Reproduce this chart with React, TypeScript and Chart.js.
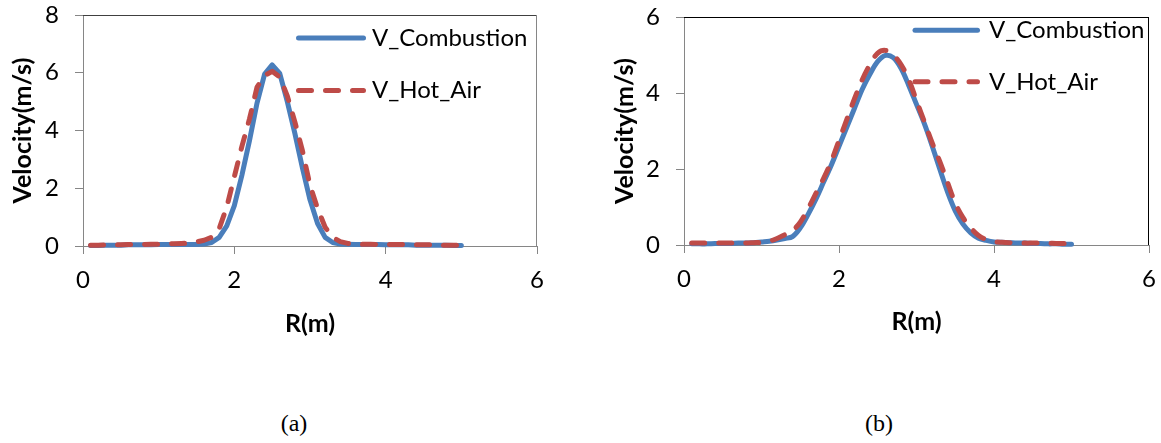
import React, { useEffect, useRef } from "react";
import { Chart, registerables } from "chart.js";

Chart.register(...registerables);

// ---- data ----
const R_M = [
  0.1, 0.2, 0.3, 0.4, 0.5, 0.6, 0.7, 0.8, 0.9, 1.0,
  1.1, 1.2, 1.3, 1.4, 1.5, 1.6, 1.7, 1.8, 1.9, 2.0,
  2.1, 2.2, 2.3, 2.4, 2.5, 2.6, 2.7, 2.8, 2.9, 3.0,
  3.1, 3.2, 3.3, 3.4, 3.5, 3.6, 3.7, 3.8, 3.9, 4.0,
  4.1, 4.2, 4.3, 4.4, 4.5, 4.6, 4.7, 4.8, 4.9, 5.0,
];

// (a)
const A_COMBUSTION = [
  0.02, 0.02, 0.03, 0.03, 0.03, 0.04, 0.04, 0.04, 0.04, 0.05,
  0.05, 0.05, 0.05, 0.05, 0.05, 0.07, 0.12, 0.3, 0.7, 1.4,
  2.45, 3.65, 4.95, 5.95, 6.27, 5.98, 5.0, 3.9, 2.7, 1.6,
  0.78, 0.3, 0.12, 0.07, 0.06, 0.05, 0.05, 0.05, 0.05, 0.04,
  0.04, 0.04, 0.04, 0.03, 0.03, 0.03, 0.03, 0.03, 0.02, 0.02,
];
const A_HOT_AIR = [
  0.03, 0.03, 0.04, 0.04, 0.04, 0.05, 0.05, 0.05, 0.06, 0.06,
  0.07, 0.08, 0.09, 0.1, 0.14, 0.2, 0.3, 0.6, 1.35, 2.4,
  3.45, 4.4, 5.5, 5.9, 6.05, 5.85, 5.2, 4.3, 3.3, 2.1,
  1.3, 0.65, 0.3, 0.15, 0.09, 0.07, 0.06, 0.06, 0.05, 0.05,
  0.05, 0.05, 0.04, 0.04, 0.04, 0.04, 0.03, 0.03, 0.03, 0.03,
];

// (b)
const B_COMBUSTION = [
  0.03, 0.03, 0.03, 0.04, 0.04, 0.04, 0.05, 0.05, 0.06, 0.08,
  0.1, 0.13, 0.17, 0.22, 0.45, 0.8, 1.2, 1.65, 2.1, 2.6,
  3.1, 3.6, 4.1, 4.5, 4.83, 4.99, 4.93, 4.65, 4.2, 3.7,
  3.2, 2.62, 2.0, 1.4, 0.9, 0.55, 0.32, 0.18, 0.12, 0.08,
  0.07, 0.06, 0.05, 0.05, 0.04, 0.04, 0.03, 0.03, 0.02, 0.02,
];
const B_HOT_AIR = [
  0.05, 0.05, 0.05, 0.05, 0.05, 0.05, 0.05, 0.05, 0.06, 0.07,
  0.1, 0.17, 0.27, 0.38, 0.6, 0.95, 1.35, 1.75, 2.2, 2.75,
  3.3, 3.85, 4.35, 4.75, 5.05, 5.12, 5.0, 4.75, 4.35, 3.8,
  3.25, 2.7, 2.2, 1.65, 1.1, 0.72, 0.45, 0.25, 0.14, 0.09,
  0.07, 0.06, 0.06, 0.05, 0.05, 0.05, 0.05, 0.04, 0.04, 0.04,
];

const X_TICKS = [0, 2, 4, 6];
const A_Y_TICKS = [0, 2, 4, 6, 8];
const B_Y_TICKS = [0, 2, 4, 6];
const SERIES_NAMES = ["V_Combustion", "V_Hot_Air"];
const X_TITLE = "R(m)";
const Y_TITLE = "Velocity(m/s)";
const CAPTIONS = ["(a)", "(b)"];

const BLUE = "#4A7EBB";
const RED = "#BE4B48";
const AXIS = "#868686";
const FONT = "Lato, 'Noto Sans', sans-serif";

const framePlugin = {
  id: "frame",
  beforeDatasetsDraw(chart: any, _args: any, opts: any) {
    const { ctx, chartArea: a } = chart;
    ctx.save();
    ctx.lineWidth = 1;
    ctx.strokeStyle = opts.topColor;
    ctx.beginPath();
    ctx.moveTo(a.left, Math.round(a.top) + 0.5);
    ctx.lineTo(a.right, Math.round(a.top) + 0.5);
    ctx.stroke();
    ctx.strokeStyle = opts.rightColor;
    ctx.beginPath();
    ctx.moveTo(Math.round(a.right) - 0.5, a.top);
    ctx.lineTo(Math.round(a.right) - 0.5, a.bottom);
    ctx.stroke();
    ctx.restore();
  },
};

const legendPlugin = {
  id: "inlineLegend",
  afterDatasetsDraw(chart: any, _args: any, opts: any) {
    const { ctx, chartArea: a } = chart;
    [0, 1].forEach((i) => {
      const ds = chart.data.datasets[i];
      const y = a.top + opts.rows[i];
      ctx.save();
      ctx.strokeStyle = ds.borderColor;
      ctx.lineWidth = ds.borderWidth;
      ctx.lineCap = "round";
      ctx.setLineDash(ds.borderDash || []);
      ctx.beginPath();
      ctx.moveTo(a.right - opts.lineStart, y);
      ctx.lineTo(a.right - opts.lineEnd, y);
      ctx.stroke();
      ctx.setLineDash([]);
      ctx.fillStyle = "#000";
      ctx.font = `24px ${FONT}`;
      ctx.textBaseline = "middle";
      ctx.textAlign = "left";
      ctx.fillText(ds.label, a.right - opts.textStart, y);
      ctx.restore();
    });
  },
};

type Cfg = {
  left: number;
  w: number;
  h: number;
  yWidth: number;
  xHeight: number;
  padTop: number;
  padRight: number;
  yTitlePad: number;
  xTitlePad: number;
  tension: number;
  topColor: string;
  rightColor: string;
  legend: { rows: number[]; lineStart: number; lineEnd: number; textStart: number };
};

function VelocityChart({
  comb,
  hot,
  yTicks,
  cfg,
}: {
  comb: number[];
  hot: number[];
  yTicks: number[];
  cfg: Cfg;
}) {
  const ref = useRef<HTMLCanvasElement>(null);
  useEffect(() => {
    const toPts = (vals: number[]) => R_M.map((x, i) => ({ x, y: vals[i] }));
    const chart = new Chart(ref.current as HTMLCanvasElement, {
      type: "line",
      data: {
        datasets: [
          {
            label: SERIES_NAMES[0],
            data: toPts(comb),
            borderColor: BLUE,
            backgroundColor: BLUE,
            borderWidth: 5,
            pointRadius: 0,
            tension: cfg.tension,
            borderCapStyle: "round",
            borderJoinStyle: "round",
            clip: false,
            order: 2,
          } as any,
          {
            label: SERIES_NAMES[1],
            data: toPts(hot),
            borderColor: RED,
            backgroundColor: RED,
            borderWidth: 5,
            borderDash: [13, 14],
            pointRadius: 0,
            tension: cfg.tension,
            borderCapStyle: "round",
            borderJoinStyle: "round",
            clip: false,
            order: 1,
          } as any,
        ],
      },
      options: {
        responsive: false,
        animation: false,
        devicePixelRatio: 1,
        layout: { padding: { left: 0, right: cfg.padRight, top: cfg.padTop, bottom: 0 } },
        plugins: {
          legend: { display: false },
          tooltip: { enabled: false },
          frame: { topColor: cfg.topColor, rightColor: cfg.rightColor },
          inlineLegend: cfg.legend,
        } as any,
        scales: {
          x: {
            type: "linear",
            min: X_TICKS[0],
            max: X_TICKS[X_TICKS.length - 1],
            afterBuildTicks: (s: any) => {
              s.ticks = X_TICKS.map((v) => ({ value: v }));
            },
            afterFit: (s: any) => {
              s.height = cfg.xHeight;
              s.paddingLeft = 0;
              s.paddingRight = 0;
            },
            ticks: { color: "#000", padding: 12, font: { family: FONT, size: 24 }, maxRotation: 0 },
            grid: { drawOnChartArea: false, drawTicks: true, tickLength: 8, color: AXIS, lineWidth: 1 },
            border: { color: AXIS, width: 1 },
            title: {
              display: true,
              text: X_TITLE,
              color: "#000",
              font: { family: FONT, size: 25, weight: "bold" },
              padding: { top: 0, bottom: cfg.xTitlePad },
            },
          } as any,
          y: {
            type: "linear",
            min: yTicks[0],
            max: yTicks[yTicks.length - 1],
            afterBuildTicks: (s: any) => {
              s.ticks = yTicks.map((v) => ({ value: v }));
            },
            afterFit: (s: any) => {
              s.width = cfg.yWidth;
              s.paddingTop = 0;
              s.paddingBottom = 0;
            },
            ticks: { color: "#000", padding: 16, font: { family: FONT, size: 24 } },
            grid: { drawOnChartArea: false, drawTicks: true, tickLength: 8, color: AXIS, lineWidth: 1 },
            border: { color: AXIS, width: 1 },
            title: {
              display: true,
              text: Y_TITLE,
              color: "#000",
              font: { family: FONT, size: 25, weight: "bold" },
              padding: { top: cfg.yTitlePad, bottom: 0 },
            },
          } as any,
        },
      },
      plugins: [framePlugin, legendPlugin],
    });
    return () => chart.destroy();
  }, []);
  return (
    <canvas
      ref={ref}
      width={cfg.w}
      height={cfg.h}
      style={{ position: "absolute", left: cfg.left, top: 0, width: cfg.w, height: cfg.h }}
    />
  );
}

const CFG_A: Cfg = {
  left: 0,
  w: 575,
  h: 360,
  yWidth: 83,
  xHeight: 114,
  padTop: 15,
  padRight: 38,
  yTitlePad: 8,
  xTitlePad: 21,
  tension: 0,
  topColor: "#404040",
  rightColor: AXIS,
  legend: { rows: [23, 75.5], lineStart: 238.5, lineEnd: 173.5, textStart: 165 },
};

const CFG_B: Cfg = {
  left: 585,
  w: 576,
  h: 360,
  yWidth: 99,
  xHeight: 115,
  padTop: 17,
  padRight: 12,
  yTitlePad: 25,
  xTitlePad: 23,
  tension: 0.35,
  topColor: "#000",
  rightColor: "#000",
  legend: { rows: [13.3, 64.8], lineStart: 234, lineEnd: 171.5, textStart: 160 },
};

export default function App() {
  const capStyle = (cx: number): React.CSSProperties => ({
    position: "absolute",
    left: cx - 40,
    top: 408,
    width: 80,
    textAlign: "center",
    fontFamily: "'Liberation Serif', 'Times New Roman', serif",
    fontSize: 24,
    lineHeight: "30px",
    color: "#000",
  });
  return (
    <div style={{ position: "absolute", left: 0, top: 0, width: 1161, height: 443, background: "#fff", overflow: "hidden" }}>
      <VelocityChart comb={A_COMBUSTION} hot={A_HOT_AIR} yTicks={A_Y_TICKS} cfg={CFG_A} />
      <VelocityChart comb={B_COMBUSTION} hot={B_HOT_AIR} yTicks={B_Y_TICKS} cfg={CFG_B} />
      <div style={capStyle(294)}>{CAPTIONS[0]}</div>
      <div style={capStyle(879)}>{CAPTIONS[1]}</div>
    </div>
  );
}
